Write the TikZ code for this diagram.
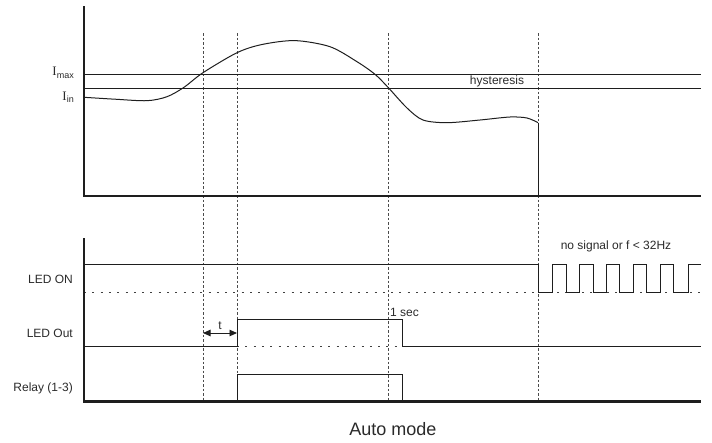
\documentclass[tikz,border=0pt]{standalone}
\usepackage{fontspec}
\setmainfont{Liberation Sans}
\newfontfamily\seriffont{Liberation Serif}
\usetikzlibrary{arrows.meta}
\definecolor{ink}{HTML}{1E1E1E}
\definecolor{txt}{HTML}{2A2A2A}
\tikzset{
  axisline/.style={line width=2.6pt, draw=ink},
  sig/.style={line width=1pt, draw=ink},
  vdash/.style={line width=0.8pt, draw=ink!80, dash pattern=on 2.5pt off 2pt},
  hdot/.style={line width=1pt, draw=ink!85, dash pattern=on 2pt off 6.3pt},
  lbl/.style={font=\fontsize{12}{14}\selectfont, text=txt, inner sep=0pt},
  ilbl/.style={text=txt, inner sep=0pt, anchor=east},
}
\begin{document}
\begin{tikzpicture}[x=1pt, y=-1pt]
\useasboundingbox (0,0) rectangle (712,442);
% vertical dashed time markers
\foreach \xx in {203,237,388,538} \draw[vdash] (\xx,33) -- (\xx,401);
% ---- top panel ----
\draw[sig] (84,74) -- (701,74);
\draw[sig] (84,88) -- (701,88);
\draw[sig] plot[smooth, tension=0.5] coordinates {(84,97.3) (115,99.2) (147,100.7) (167,96.7) (184,87.3) (203,72.7) (237,52.7) (262,44.5) (295,40.6) (330,46.7) (357,61.7) (375,74.3) (388,87.3) (407,108) (423,120) (447,122.7) (480,120) (510,117) (527,118) (538,122.7)};
\draw[sig] (538,122.7) -- (538,196);
\draw[axisline] (84,6) -- (84,196) -- (701,196);
\node[ilbl] (imax) at (74,73) {{\seriffont\fontsize{13}{13}\selectfont I}\raisebox{-2.5pt}{\fontsize{9}{9}\selectfont max}};
\node[ilbl] (iin) at (74,97) {{\seriffont\fontsize{13}{13}\selectfont I}\raisebox{-2.5pt}{\fontsize{9}{9}\selectfont in}};
\node[lbl] (hyst) at (497,81) {hysteresis};
% ---- bottom panel ----
% LED ON
\draw[hdot] (84,292) -- (701,292);
\draw[sig] (84,264) -- (538,264) -- (538,292) -- (552,292) -- (552,264) -- (566,264) -- (566,292)
  -- (579,292) -- (579,264) -- (593,264) -- (593,292) -- (606,292) -- (606,264) -- (619,264)
  -- (619,292) -- (633,292) -- (633,264) -- (646,264) -- (646,292) -- (660,292) -- (660,264)
  -- (673,264) -- (673,292) -- (688,292) -- (688,264) -- (701,264);
% LED Out
\draw[hdot] (237,346) -- (402,346);
\draw[sig] (84,346) -- (237,346) -- (237,319) -- (402,319) -- (402,346) -- (701,346);
% Relay
\draw[sig] (237,401) -- (237,374) -- (402,374) -- (402,401);
\draw[axisline] (84,238) -- (84,401.5) -- (701,401.5);
% t arrow
\coordinate (ta) at (203,333);
\coordinate (tb) at (237,333);
\draw[line width=0.9pt, draw=ink, {Triangle[length=7.5pt,width=6.5pt]}-{Triangle[length=7.5pt,width=6.5pt]}] (ta) -- (tb);
\node[lbl] (t) at (220,326) {t};
\node[lbl, anchor=west] (sec) at (390,312) {1 sec};
\node[lbl, anchor=east] (ledon) at (73,279) {LED ON};
\node[lbl, anchor=east] (ledout) at (73,333) {LED Out};
\node[lbl, anchor=east] (relay) at (73,388) {Relay (1-3)};
\node[lbl] (nosig) at (616,246) {no signal or f < 32Hz};
\node[font=\fontsize{18}{20}\selectfont, text=txt, inner sep=0pt] (auto) at (393,429) {Auto mode};
\end{tikzpicture}
\end{document}
